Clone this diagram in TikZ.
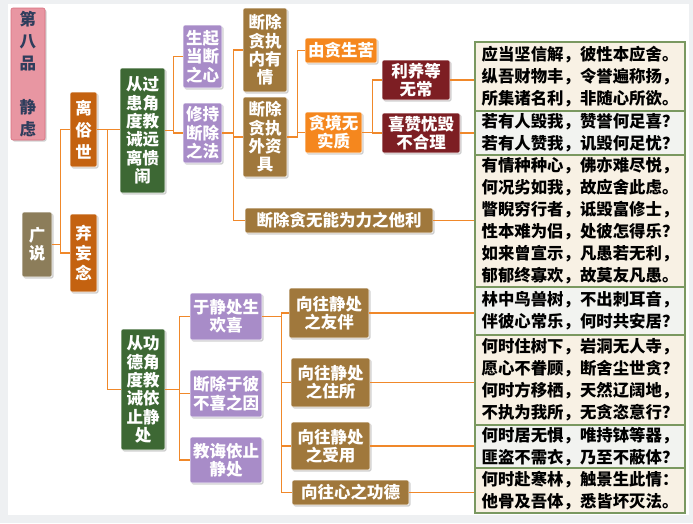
\documentclass[tikz,border=0pt]{standalone}
\usepackage{fontspec}
\setmainfont{Noto Sans CJK SC}
\usetikzlibrary{shadows}

\definecolor{pagegray}{HTML}{EEF0F2}
\definecolor{linkorange}{HTML}{F0882A}
\definecolor{titlepink}{HTML}{E896A2}
\definecolor{titleline}{HTML}{D9707F}
\definecolor{titleink}{HTML}{2E3D5C}
\definecolor{khaki}{HTML}{8C7D5A}
\definecolor{rust}{HTML}{C46210}
\definecolor{leaf}{HTML}{3D6834}
\definecolor{lilac}{HTML}{A88CC8}
\definecolor{bronze}{HTML}{A0783C}
\definecolor{amber}{HTML}{F5871E}
\definecolor{maroon}{HTML}{7D1E23}
\definecolor{versegreen}{HTML}{7A9860}
\definecolor{versebeige}{HTML}{F8F1E4}
\definecolor{versegray}{HTML}{F2F3F0}

\begin{document}
\begin{tikzpicture}[x=1pt, y=-1pt,
    box/.style={rounded corners=2pt, draw=white, line width=0.6pt, text=white,
      align=center, inner sep=0pt, font=\bfseries\fontsize{16.5}{18.3}\selectfont,
      drop shadow={shadow xshift=1.5pt, shadow yshift=-1.5pt, opacity=0.3, fill=black!60}},
    column/.style={box, font=\bfseries\fontsize{16.5}{22}\selectfont},
    verse/.style={draw=versegreen, line width=1.2pt, align=center, inner sep=0pt,
      minimum width=210pt, font=\bfseries\fontsize{16.4}{22}\selectfont},
    link/.style={draw=linkorange, line width=1.6pt}]

    % page
    \fill[pagegray] (0,0) rectangle (693,523);
    \fill[white] (8,4) rectangle (689,515);

    % left side
    \node[column, fill=titlepink, draw=titleline, text=titleink, minimum width=34pt, minimum height=132pt]
      (title) at (28,74) {第\\八\\品\\ \\静\\虑};
    \node[box, fill=khaki, minimum width=30pt, minimum height=65pt] (guang) at (37,244.5) {广\\说};
    \node[column, fill=rust, minimum width=27pt, minimum height=75pt] (lisu) at (83.5,129.5) {离\\俗\\世};
    \node[box, fill=rust, minimum width=27pt, minimum height=78pt,
      font=\bfseries\fontsize{16.5}{20}\selectfont] (qiwang) at (83.5,253) {弃\\妄\\念};

    \node[box, fill=leaf, minimum width=45pt, minimum height=125pt] (guohuan) at (142.5,130.5)
      {从过\\患角\\度教\\诫远\\离愦\\闹};
    \node[box, fill=leaf, minimum width=44pt, minimum height=121pt] (gongde) at (143,389.5)
      {从功\\德角\\度教\\诫依\\止静\\处};

    % upper branch
    \node[box, fill=lilac, minimum width=39pt, minimum height=63pt] (shengqi) at (202.5,56.5) {生起\\当断\\之心};
    \node[box, fill=lilac, minimum width=39pt, minimum height=60pt] (xiuchi) at (202.5,133) {修持\\断除\\之法};
    \node[box, fill=bronze, minimum width=44pt, minimum height=84pt] (neiyou) at (265,50) {断除\\贪执\\内有\\情};
    \node[box, fill=bronze, minimum width=44pt, minimum height=80pt] (waizi) at (265,137) {断除\\贪执\\外资\\具};
    \node[box, fill=bronze, minimum width=188pt, minimum height=25pt] (tali) at (339,220.5) {断除贪无能为力之他利};
    \node[box, fill=amber, minimum width=72pt, minimum height=25pt] (youtan) at (341,50.5) {由贪生苦};
    \node[box, fill=amber, minimum width=57pt, minimum height=41pt] (tanjing) at (333.5,132.5) {贪境无\\实质};
    \node[box, fill=maroon, minimum width=68pt, minimum height=40pt] (liyang) at (416,80) {利养等\\无常};
    \node[box, fill=maroon, minimum width=78pt, minimum height=40pt] (xizan) at (421,133) {喜赞忧毁\\不合理};

    % lower branch
    \node[box, fill=lilac, minimum width=72pt, minimum height=47pt] (huanxi) at (226,316.5) {于静处生\\欢喜};
    \node[box, fill=lilac, minimum width=72pt, minimum height=47pt] (buxi) at (226,393.5) {断除于彼\\不喜之因};
    \node[box, fill=lilac, minimum width=72pt, minimum height=46pt] (jiaohui) at (226,460) {教诲依止\\静处};
    \node[box, fill=bronze, minimum width=80pt, minimum height=50pt] (youban) at (329,313) {向往静处\\之友伴};
    \node[box, fill=bronze, minimum width=79pt, minimum height=49pt] (zhusuo) at (330.5,382.5) {向往静处\\之住所};
    \node[box, fill=bronze, minimum width=79pt, minimum height=48pt] (shouyong) at (330.5,446) {向往静处\\之受用};
    \node[box, fill=bronze, minimum width=117pt, minimum height=25pt] (xinde) at (350.5,492.5) {向往心之功德};

    % verses
    \node[verse, fill=versebeige, minimum height=69pt] (t1) at (580,76.5)
      {应当坚信解，彼性本应舍。\\纵吾财物丰，令誉遍称扬，\\所集诸名利，非随心所欲。};
    \node[verse, fill=versegray, minimum height=44pt] (t2) at (580,133)
      {若有人毁我，赞誉何足喜？\\若有人赞我，讥毁何足忧？};
    \node[verse, fill=versebeige, minimum height=132pt] (t3) at (580,221)
      {有情种种心，佛亦难尽悦，\\何况劣如我，故应舍此虑。\\瞥睨穷行者，诋毁富修士，\\性本难为侣，处彼怎得乐？\\如来曾宣示，凡愚若无利，\\郁郁终寡欢，故莫友凡愚。};
    \node[verse, fill=versegray, minimum height=48pt] (t4) at (580,311)
      {林中鸟兽树，不出刺耳音，\\伴彼心常乐，何时共安居？};
    \node[verse, fill=versebeige, minimum height=90pt] (t5) at (580,380)
      {何时住树下，岩洞无人寺，\\愿心不眷顾，断舍尘世贪？\\何时方移栖，天然辽阔地，\\不执为我所，无贪恣意行？};
    \node[verse, fill=versegray, minimum height=43pt] (t6) at (580,446.5)
      {何时居无惧，唯持钵等器，\\匪盗不需衣，乃至不蔽体？};
    \node[verse, fill=versebeige, minimum height=45pt] (t7) at (580,490.5)
      {何时赴寒林，触景生此情：\\他骨及吾体，悉皆坏灭法。};

    % connectors
    \draw[link] (guang.east) -- ++(8,0) coordinate (b0) |- (lisu.west);
    \draw[link] (b0) |- (qiwang.west);
    \draw[link] (lisu.east) -- (lisu.east -| guohuan.west);
    \coordinate (b1) at ([xshift=10pt]lisu.east);
    \draw[link] (b1) |- (gongde.west);

    \draw[link] (guohuan.east) -- ++(8,0) coordinate (b2) |- (shengqi.west);
    \draw[link] (b2) |- (xiuchi.west);
    \draw[link] (xiuchi.east) -- ++(11,0) coordinate (b3) |- (neiyou.west);
    \draw[link] (b3) |- (waizi.west);
    \draw[link] (b3) |- (tali.west);
    \draw[link] (waizi.east) -- ++(10,0) coordinate (b4) |- (youtan.west);
    \draw[link] (b4) |- (tanjing.west);
    \draw[link] (tanjing.east) -- ++(10,0) coordinate (b5) |- (liyang.west);
    \draw[link] (b5) |- (xizan.west);
    \draw[link] (liyang.east) -- (t1.west |- liyang.east);
    \draw[link] (xizan.east) -- (t2.west |- xizan.east);
    \draw[link] (tali.east) -- (t3.west |- tali.east);

    \draw[link] (gongde.east) -- ++(14,0) coordinate (b6) |- (huanxi.west);
    \draw[link] (b6) |- (buxi.west);
    \draw[link] (b6) |- (jiaohui.west);
    \draw[link] (huanxi.east) -- ++(19,0) coordinate (b7) |- (youban.west);
    \draw[link] (b7) |- (zhusuo.west);
    \draw[link] (b7) |- (shouyong.west);
    \draw[link] (b7) |- (xinde.west);
    \draw[link] (youban.east) -- (t4.west |- youban.east);
    \draw[link] (zhusuo.east) -- (t5.west |- zhusuo.east);
    \draw[link] (shouyong.east) -- (t6.west |- shouyong.east);
    \draw[link] (xinde.east) -- (t7.west |- xinde.east);
  \end{tikzpicture}
\end{document}
